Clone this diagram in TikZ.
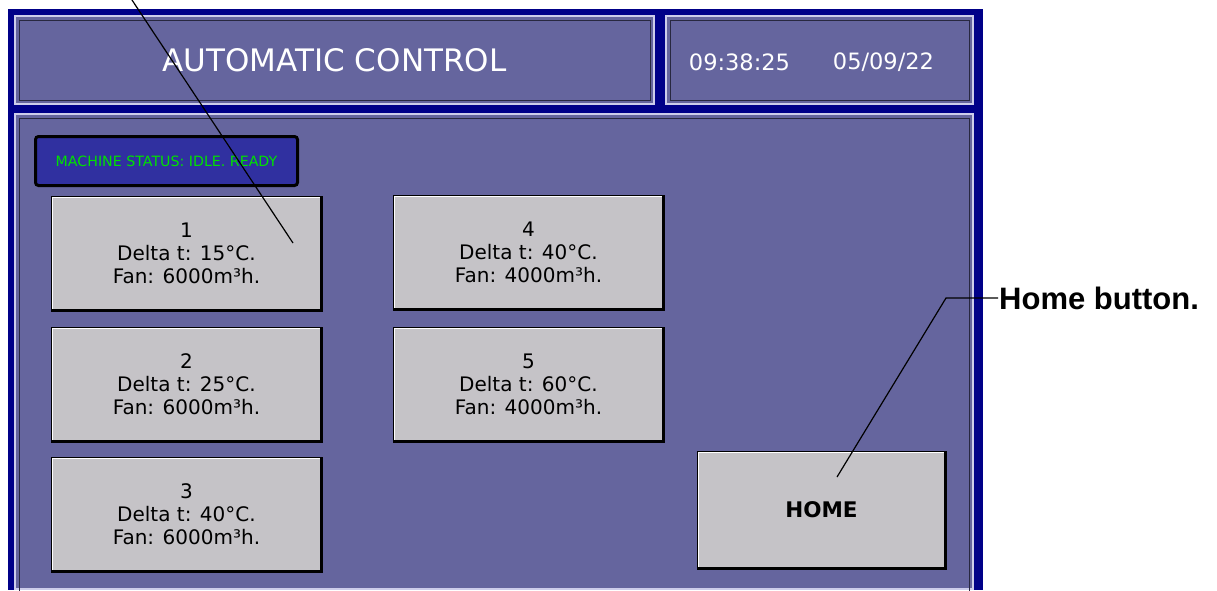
\documentclass[tikz,border=0pt]{standalone}
\usepackage{fontspec}
\newfontfamily\dvs{DejaVu Sans}
\newfontfamily\lsans{Liberation Sans}
\definecolor{navyframe}{RGB}{0,0,136}
\definecolor{panelfill}{RGB}{101,101,158}
\definecolor{panellight}{RGB}{205,205,235}
\definecolor{paneldark}{RGB}{40,40,64}
\definecolor{statusblue}{RGB}{48,48,160}
\definecolor{statusgreen}{RGB}{0,226,0}
\definecolor{btngrey}{RGB}{197,195,199}
\begin{document}
\begin{tikzpicture}[x=1pt,y=-1pt,
  panel/.style={fill=panelfill, draw=panellight, line width=2pt, inner sep=0pt, outer sep=0pt},
  inframe/.style={draw=paneldark, line width=1pt},
  btn/.style={fill=btngrey, draw=black, line width=1pt, inner sep=0pt, outer sep=0pt,
    minimum width=271pt, minimum height=115pt, align=center, text=black,
    font=\dvs\fontsize{20}{23}\selectfont},
  hmitext/.style={text=white, inner sep=0pt},
  leader/.style={draw=black, line width=1.2pt}]
\useasboundingbox (0,0) rectangle (1217,590);
% outer navy frame
\fill[navyframe] (8,9) rectangle (983,590);
% panels
\node[panel, minimum width=639pt, minimum height=88pt, hmitext, text=white,
  font=\dvs\fontsize{31}{36}\selectfont] (hdr) at (334.5,60) {AUTOMATIC CONTROL};
\node[panel, minimum width=307pt, minimum height=88pt] (clock) at (819.5,60) {};
\node[panel, minimum width=958pt, minimum height=475pt] (main) at (494,351.5) {};
\foreach \n in {hdr,clock}{
  \draw[inframe] ([xshift=4.5pt,yshift=-4.5pt]\n.north west) rectangle ([xshift=-3.5pt,yshift=3.5pt]\n.south east);
}
\draw[inframe] ([xshift=4.5pt,yshift=-4.5pt]main.north west) rectangle ([xshift=-3.5pt,yshift=-12pt]main.south east);
\node[hmitext, font=\dvs\fontsize{22.5}{26}\selectfont] (time) at (739.5,62) {09:38:25};
\node[hmitext, font=\dvs\fontsize{22.5}{26}\selectfont] (date) at (883.5,62) {05/09/22};
% status box
\node[draw=black, line width=3pt, rounded corners=3pt, fill=statusblue, inner sep=0pt, outer sep=0pt,
  minimum width=262pt, minimum height=49pt, text=statusgreen,
  font=\dvs\fontsize{14.2}{17}\selectfont] (status) at (166.5,161) {MACHINE STATUS: IDLE. READY};
% buttons
\node[btn] (b1) at (186.5,253.5) {1\\Delta t: 15°C.\\Fan: 6000m³h.};
\node[btn] (b2) at (186.5,384.5) {2\\Delta t: 25°C.\\Fan: 6000m³h.};
\node[btn] (b3) at (186.5,514.5) {3\\Delta t: 40°C.\\Fan: 6000m³h.};
\node[btn] (b4) at (528.5,252.5) {4\\Delta t: 40°C.\\Fan: 4000m³h.};
\node[btn] (b5) at (528.5,384.5) {5\\Delta t: 60°C.\\Fan: 4000m³h.};
\node[btn, minimum width=249pt, minimum height=118pt,
  font=\dvs\bfseries\fontsize{21.5}{26}\selectfont] (home) at (821.5,510) {HOME};
\foreach \n in {b1,b2,b3,b4,b5,home}{
  \draw[white, line width=1.5pt] ([xshift=1.5pt,yshift=2.5pt]\n.south west) -- ([xshift=1.5pt,yshift=-1.5pt]\n.north west) -- ([xshift=-2.5pt,yshift=-1.5pt]\n.north east);
  \draw[black, line width=1.6pt] ([xshift=-1pt,yshift=-1pt]\n.north east) -- ([xshift=-1pt,yshift=1pt]\n.south east) -- ([xshift=1pt,yshift=1pt]\n.south west);
}
% label
\node[anchor=west, inner sep=1pt, text=black,
  font=\lsans\bfseries\fontsize{31}{36}\selectfont] (hlabel) at (998,298) {Home button.};
% leaders
\coordinate (hp) at (837,477);
\coordinate (hc) at (946,298);
\draw[leader] (hp) -- (hc) -- (hlabel.west);
\coordinate (t0) at (130,-3);
\coordinate (t1) at (293,243);
\draw[leader] (t0) -- (t1);
\end{tikzpicture}
\end{document}
